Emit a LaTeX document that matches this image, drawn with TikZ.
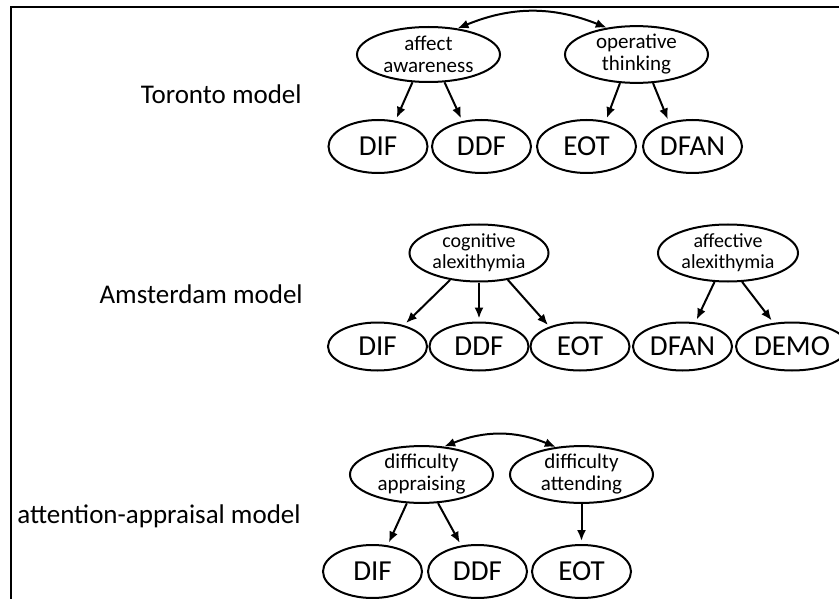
\documentclass[tikz,border=0pt]{standalone}
\usepackage{fontspec}
\setmainfont{Carlito}
\usetikzlibrary{arrows.meta}
\usetikzlibrary{shapes.geometric}

\tikzset{
  factor/.style={draw,shape=ellipse,line width=2pt,inner sep=0pt,align=center,
    minimum width=143pt,minimum height=55pt,font=\fontsize{21}{22}\selectfont},
  item/.style={draw,shape=ellipse,line width=2pt,inner sep=0pt,
    minimum width=99pt,minimum height=53pt,font=\fontsize{29}{30}\selectfont},
  model/.style={anchor=base east,font=\fontsize{27}{30}\selectfont}
}

\begin{document}
\begin{tikzpicture}[x=1pt,y=-1pt,>/.tip={Latex[length=11pt,width=9pt]},line width=2pt]
	\useasboundingbox (0,0) rectangle (839,599);
	\draw[line width=1.6pt] (11,599) -- (11,7) -- (839,7);

	% Toronto model
	\node [model] (tor) at (306,104) {Toronto model};
	\draw (428.5,54.5) node (aff) [factor] {affect\\awareness};
	\draw (636.5,54.5) node (ope) [factor] {operative\\thinking};
	\draw (378,146.5) node (tdif) [item] {DIF};
	\draw (481.5,146.5) node (tddf) [item] {DDF};
	\draw (586.5,146.5) node (teot) [item] {EOT};
	\draw (692.5,146.5) node (tdfan) [item] {DFAN};

	\path[<->] (aff.42) edge [bend left=22] (ope.138);
	\path[->,shorten >=3pt] (aff.-120) edge (tdif.56);
	\path[->,shorten >=3pt] (aff.-60) edge (tddf.127);
	\path[->,shorten >=3pt] (ope.-120) edge (teot.53);
	\path[->,shorten >=3pt] (ope.-60) edge (tdfan.134);

	% Amsterdam model
	\node [model] (ams) at (307,303) {Amsterdam model};
	\draw (479,253) node (cog) [factor,minimum width=139pt,minimum height=57pt,font=\fontsize{20}{21}\selectfont] {cognitive\\alexithymia};
	\draw (728,253) node (aft) [factor,minimum width=140pt,minimum height=57pt,font=\fontsize{20}{21}\selectfont] {affective\\alexithymia};
	\draw (377.5,346.5) node (adif) [item,minimum height=48pt] {DIF};
	\draw (479,346.5) node (addf) [item,minimum height=48pt] {DDF};
	\draw (580,346.5) node (aeot) [item,minimum height=48pt] {EOT};
	\draw (682.5,346.5) node (adfan) [item,minimum height=48pt] {DFAN};
	\draw (792,346.5) node (ademo) [item,minimum width=112pt,minimum height=48pt] {DEMO};

	\path[->,shorten >=3pt] (cog.-137) edge (adif.39);
	\path[->,shorten >=3pt] (cog.south) edge (addf.north);
	\path[->,shorten >=2pt] (cog.-43) edge (aeot.147);
	\path[->,shorten >=3pt] (aft.-115) edge (adfan.62);
	\path[->,shorten >=3pt] (aft.-64) edge (ademo.128);

	% attention-appraisal model
	\node [model] (att) at (305,523) {attention-appraisal model};
	\draw (421.5,474.5) node (app) [factor] {difficulty\\appraising};
	\draw (581.5,474.5) node (atd) [factor] {difficulty\\attending};
	\draw (372.5,571.5) node (pdif) [item] {DIF};
	\draw (477.5,571.5) node (pddf) [item] {DDF};
	\draw (581.5,571.5) node (peot) [item] {EOT};

	\path[<->] (app.51) edge [bend left=22] (atd.133);
	\path[->,shorten >=3pt] (app.-117) edge (pdif.60);
	\path[->,shorten >=3pt] (app.-60) edge (pddf.122);
	\path[->,shorten >=3pt] (atd.south) edge (peot.north);
\end{tikzpicture}
\end{document}
